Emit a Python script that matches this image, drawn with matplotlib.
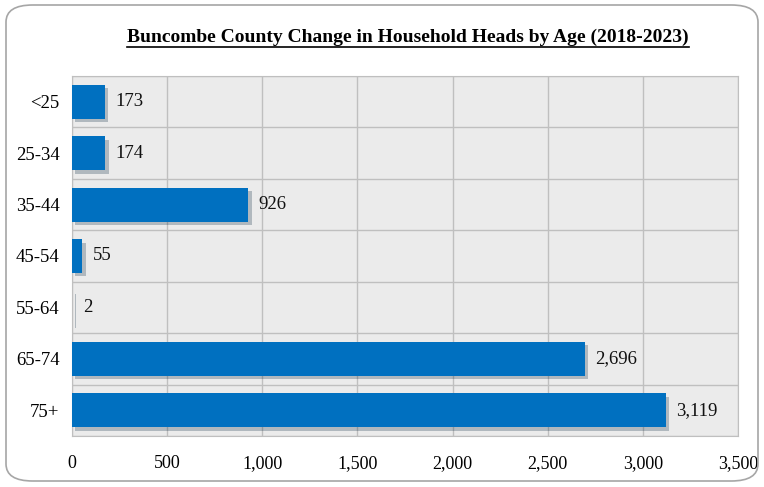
import matplotlib.pyplot as plt
import matplotlib.patheffects as pe
from matplotlib.patches import FancyBboxPatch
import numpy as np

# data
ages = ['<25', '25-34', '35-44', '45-54', '55-64', '65-74', '75+']
change = [173, 174, 926, 55, 2, 2696, 3119]
xticks = [0, 500, 1000, 1500, 2000, 2500, 3000, 3500]

plt.rcParams['font.family'] = ['Liberation Serif', 'DejaVu Serif']

fig = plt.figure(figsize=(7.64, 4.87), dpi=100)
ax = fig.add_axes([72 / 764, 1 - 436 / 487, 666 / 764, 360 / 487])

# rounded outer frame
frame = FancyBboxPatch((6 / 764, 6 / 487), 752 / 764, 476 / 487,
                       boxstyle='round,pad=0,rounding_size=0.035',
                       transform=fig.transFigure, fill=False,
                       edgecolor='#a6a6a6', linewidth=1.2)
fig.patches.append(frame)

y = np.arange(len(ages))
bars = ax.barh(y, change, height=0.66, color='#0070c0', zorder=3)
for b in bars:
    b.set_path_effects([pe.SimplePatchShadow(offset=(2.5, -2.5), alpha=0.25), pe.Normal()])

for yi, v in zip(y, change):
    ax.text(v + 55, yi, f'{v:,}', va='center', ha='left', fontsize=13.5, color='#111111')

ax.set_xlim(0, 3500)
ax.set_ylim(len(ages) - 0.5, -0.5)
ax.set_facecolor('#ebebeb')
ax.set_xticks(xticks)
ax.set_xticklabels([f'{t:,}' for t in xticks], fontsize=13)
ax.set_yticks(y)
ax.set_yticklabels(ages, fontsize=13.5)
ax.set_yticks(np.arange(-0.5, len(ages), 1), minor=True)
ax.tick_params(axis='both', which='both', length=0)
ax.tick_params(axis='x', pad=14)
ax.tick_params(axis='y', pad=9)
ax.grid(axis='x', which='major', color='#bfbfbf', linewidth=1, zorder=0)
ax.grid(axis='y', which='minor', color='#bfbfbf', linewidth=1, zorder=0)
ax.set_axisbelow(True)
for s in ax.spines.values():
    s.set_color('#bfbfbf')

title = fig.text(408 / 764, 1 - 37 / 487, 'Buncombe County Change in Household Heads by Age (2018-2023)',
                 ha='center', va='center', fontsize=14, fontweight='bold')
# underline under the title
fig.canvas.draw()
bb = title.get_window_extent().transformed(fig.transFigure.inverted())
fig.add_artist(plt.Line2D([bb.x0, bb.x1], [1 - 47 / 487, 1 - 47 / 487],
                          transform=fig.transFigure, color='black', linewidth=1.2))

fig.savefig('out.png', dpi=100)
